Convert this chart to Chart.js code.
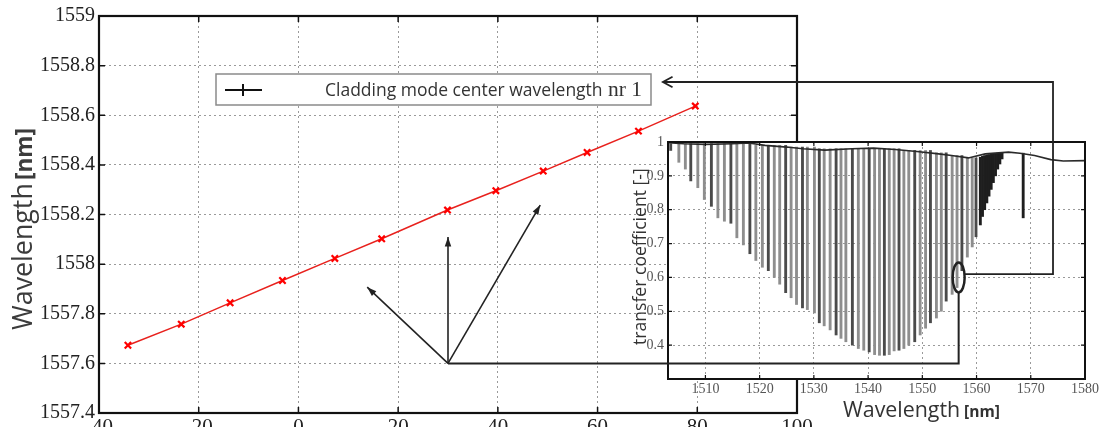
<!DOCTYPE html>
<html>
<head>
<meta charset="utf-8">
<script src="https://cdn.jsdelivr.net/npm/chart.js@4.4.0/dist/chart.umd.min.js"></script>
<style>
  html, body { margin: 0; padding: 0; background: #fff; overflow: hidden; }
  #wrap { position: relative; width: 1101px; height: 427px; overflow: hidden; }
  #wrap canvas { position: absolute; left: 0; top: 0; }
</style>
</head>
<body>
<div id="wrap">
  <canvas id="mainChart" width="1101" height="452"></canvas>
  <canvas id="insetChart" width="1101" height="427"></canvas>
</div>
<script>
// main plot: centre wavelength of cladding mode nr 1
const temperature = [-34.2, -23.5, -13.7, -3.2, 7.3, 16.7, 29.9, 39.6, 49.1, 57.9, 68.2, 79.6];
const centerWavelength = [1557.673, 1557.758, 1557.844, 1557.934, 1558.023, 1558.102,
  1558.218, 1558.296, 1558.375, 1558.45, 1558.536, 1558.637];
const mainXTicks = [-40, -20, 0, 20, 40, 60, 80, 100];
const mainYTicks = [1557.4, 1557.6, 1557.8, 1558, 1558.2, 1558.4, 1558.6, 1558.8, 1559];

// inset: transmission spectrum, every dip = [minimum, level above it]
const dipWavelength = [1503.6, 1505.1, 1506.3, 1507.3, 1508.6, 1509.8, 1511.1, 1512.3, 1513.5, 1514.7,
  1515.8, 1517.0, 1518.2, 1519.3, 1520.5, 1521.6, 1522.7, 1523.7, 1524.8, 1525.8,
  1526.8, 1527.9, 1528.8, 1530.1, 1531.0, 1531.9, 1533.0, 1534.1, 1535.0, 1535.9,
  1537.1, 1538.2, 1539.2, 1540.2, 1541.2, 1542.1, 1543.0, 1543.9, 1544.8, 1545.7,
  1546.6, 1547.5, 1548.6, 1549.6, 1550.6, 1551.5, 1552.6, 1553.5, 1554.4, 1555.5,
  1556.4, 1557.3, 1558.3, 1559.2, 1559.9, 1560.7, 1561.1, 1561.5, 1561.9, 1562.3,
  1562.7, 1563.1, 1563.5, 1563.9, 1564.3, 1564.7, 1568.6];
const dipMinimum = [0.975, 0.94, 0.92, 0.885, 0.865, 0.83, 0.81, 0.776, 0.766, 0.76,
  0.717, 0.696, 0.67, 0.65, 0.63, 0.62, 0.60, 0.58, 0.555, 0.54,
  0.52, 0.51, 0.505, 0.495, 0.466, 0.457, 0.445, 0.43, 0.42, 0.41,
  0.40, 0.39, 0.385, 0.38, 0.372, 0.37, 0.37, 0.372, 0.383, 0.385,
  0.39, 0.40, 0.41, 0.43, 0.45, 0.466, 0.48, 0.50, 0.53, 0.55,
  0.57, 0.62, 0.66, 0.69, 0.72, 0.755, 0.78, 0.80, 0.82, 0.84,
  0.86, 0.88, 0.90, 0.92, 0.935, 0.95, 0.776];
const dipTop = [0.995, 0.995, 0.995, 0.995, 0.995, 0.995, 0.995, 0.995, 0.995, 0.995,
  0.995, 0.995, 0.995, 0.99, 0.99, 0.99, 0.99, 0.99, 0.99, 0.985,
  0.985, 0.985, 0.985, 0.985, 0.98, 0.98, 0.98, 0.98, 0.98, 0.98,
  0.98, 0.98, 0.98, 0.98, 0.98, 0.98, 0.98, 0.98, 0.98, 0.98,
  0.975, 0.975, 0.975, 0.975, 0.975, 0.975, 0.968, 0.968, 0.968, 0.96,
  0.96, 0.96, 0.953, 0.953, 0.953, 0.955, 0.958, 0.96, 0.962, 0.963,
  0.964, 0.965, 0.966, 0.967, 0.968, 0.969, 0.967];
const envWavelength = [1503.1, 1506, 1510, 1515, 1518, 1521, 1525, 1528, 1532, 1537, 1541, 1545,
  1549, 1553, 1555.4, 1558.5, 1561.6, 1565.9, 1568, 1570.7, 1573.7, 1576, 1580];
const envValue = [0.998, 0.995, 0.993, 0.995, 0.997, 0.99, 0.985, 0.98, 0.976, 0.98, 0.982, 0.978,
  0.972, 0.965, 0.96, 0.953, 0.965, 0.97, 0.967, 0.96, 0.948, 0.944, 0.945];
const insetXTicks = [1510, 1520, 1530, 1540, 1550, 1560, 1570, 1580];
const insetYTicks = [0.4, 0.5, 0.6, 0.7, 0.8, 0.9, 1];

// annotation arrows
const arrowBase = [30, 1557.6];                 // main plot
const arrowTipX = [13.8, 30, 48.5];
const arrowTipY = [1557.907, 1558.109, 1558.238];
const ellipseAt = [1556.7, 0.6];                // inset
const returnAt = [1574.1, 0.61];                // inset
const returnTip = [73.1, 1558.734];             // main plot

const serif = "'Liberation Serif', 'Times New Roman', serif";
const sans = "'Open Sans', 'DejaVu Sans', sans-serif";

// font size so that the text spans the given width
function fitFont(ctx, text, weight, family, width) {
  ctx.font = weight + ' 20px ' + family;
  const size = 20 * width / ctx.measureText(text).width;
  return weight + ' ' + size.toFixed(1) + 'px ' + family;
}

function inwardTicks(ctx, a, x, y, len) {
  x.ticks.forEach(t => {
    const px = x.getPixelForValue(t.value);
    ctx.moveTo(px, a.bottom); ctx.lineTo(px, a.bottom - len);
    ctx.moveTo(px, a.top); ctx.lineTo(px, a.top + len);
  });
  y.ticks.forEach(t => {
    const py = y.getPixelForValue(t.value);
    ctx.moveTo(a.left, py); ctx.lineTo(a.left + len, py);
    ctx.moveTo(a.right, py); ctx.lineTo(a.right - len, py);
  });
}

// parts: {text, weight, width}; drawn bottom-to-top, ending at 'top'
function verticalTitle(ctx, bx, bottom, gap, parts, color) {
  ctx.save();
  ctx.translate(bx, bottom);
  ctx.rotate(-Math.PI / 2);
  ctx.textBaseline = 'alphabetic';
  ctx.fillStyle = color;
  let off = 0;
  parts.forEach(p => {
    ctx.font = fitFont(ctx, p.text, p.weight, sans, p.width);
    ctx.fillText(p.text, off, 0);
    off += p.width + gap;
  });
  ctx.restore();
}

const mainDecor = {
  id: 'mainDecor',
  afterDraw(chart) {
    const {ctx, chartArea: a, scales: {x, y}} = chart;
    ctx.save();
    ctx.strokeStyle = '#111';
    ctx.lineWidth = 1.5;
    ctx.beginPath();
    inwardTicks(ctx, a, x, y, 6);
    ctx.stroke();
    ctx.lineWidth = 2.2;
    ctx.strokeRect(a.left, a.top, a.right - a.left, a.bottom - a.top);

    // legend box
    const lx = a.left + 117, ly = a.top + 58;
    ctx.fillStyle = '#fff';
    ctx.fillRect(lx, ly, 435, 31);
    ctx.strokeStyle = '#8a8a8a';
    ctx.lineWidth = 1.5;
    ctx.strokeRect(lx, ly, 435, 31);
    ctx.strokeStyle = '#111';
    ctx.lineWidth = 2;
    ctx.beginPath();
    ctx.moveTo(lx + 9, ly + 16); ctx.lineTo(lx + 46, ly + 16);
    ctx.moveTo(lx + 27, ly + 10); ctx.lineTo(lx + 27, ly + 22);
    ctx.stroke();
    ctx.fillStyle = '#333';
    ctx.textBaseline = 'alphabetic';
    ctx.font = fitFont(ctx, 'Cladding mode center wavelength', 'normal', sans, 277);
    ctx.fillText('Cladding mode center wavelength', lx + 109, ly + 22);
    ctx.font = fitFont(ctx, 'nr 1', 'normal', serif, 34);
    ctx.fillText('nr 1', lx + 392, ly + 22);
    ctx.restore();

    verticalTitle(ctx, 32, 330, 3, [
      {text: 'Wavelength', weight: 'normal', width: 147},
      {text: '[nm]', weight: 'bold', width: 52}
    ], '#3c3c3c');
  }
};

const mainChart = new Chart(document.getElementById('mainChart'), {
  type: 'line',
  data: {
    datasets: [{
      data: temperature.map((t, i) => ({x: t, y: centerWavelength[i]})),
      borderColor: '#e8211d',
      borderWidth: 1.5,
      pointStyle: 'crossRot',
      pointRadius: 4.5,
      pointBorderWidth: 2.2,
      pointBorderColor: '#f00',
      pointBackgroundColor: '#f00'
    }]
  },
  options: {
    responsive: false,
    animation: false,
    layout: {padding: {top: 16, right: 304, left: 0, bottom: 0}},
    plugins: {legend: {display: false}, tooltip: {enabled: false}},
    scales: {
      x: {
        type: 'linear', min: -40, max: 100,
        afterBuildTicks: s => { s.ticks = mainXTicks.map(v => ({value: v})); },
        afterFit: s => { s.height = 39; },
        grid: {color: '#9a9a9a', lineWidth: 1, drawTicks: false},
        border: {display: false, dash: [2, 3]},
        ticks: {padding: 2, font: {family: serif, size: 21}, color: '#222', maxRotation: 0, autoSkip: false,
          callback: v => String(v)}
      },
      y: {
        type: 'linear', min: 1557.4, max: 1559,
        afterBuildTicks: s => { s.ticks = mainYTicks.map(v => ({value: v})); },
        afterFit: s => { s.width = 99; },
        grid: {color: '#9a9a9a', lineWidth: 1, drawTicks: false},
        border: {display: false, dash: [2, 3]},
        ticks: {padding: 4, font: {family: serif, size: 20}, color: '#222',
          callback: v => String(+v.toFixed(1))}
      }
    }
  },
  plugins: [mainDecor]
});

function arrowHead(ctx, x0, y0, x1, y1, len, half, filled) {
  const ang = Math.atan2(y1 - y0, x1 - x0);
  ctx.beginPath();
  ctx.moveTo(x1 - len * Math.cos(ang - half), y1 - len * Math.sin(ang - half));
  ctx.lineTo(x1, y1);
  ctx.lineTo(x1 - len * Math.cos(ang + half), y1 - len * Math.sin(ang + half));
  if (filled) { ctx.closePath(); ctx.fill(); } else { ctx.stroke(); }
}

const insetDecor = {
  id: 'insetDecor',
  beforeDraw(chart) {
    const {ctx, chartArea: a} = chart;
    ctx.save();
    ctx.fillStyle = '#fff';
    ctx.fillRect(a.left, a.top, a.right - a.left, a.bottom - a.top);
    ctx.restore();
  },
  afterDraw(chart) {
    const {ctx, chartArea: a, scales: {x, y}} = chart;
    const mx = mainChart.scales.x, my = mainChart.scales.y;
    ctx.save();
    ctx.strokeStyle = '#111';
    ctx.lineWidth = 1.2;
    ctx.beginPath();
    inwardTicks(ctx, a, x, y, 4);
    ctx.stroke();
    ctx.lineWidth = 2;
    ctx.strokeRect(a.left, a.top, a.right - a.left, a.bottom - a.top);

    // arrows from the spectrum to the main plot
    const bx = mx.getPixelForValue(arrowBase[0]), by = my.getPixelForValue(arrowBase[1]);
    ctx.strokeStyle = '#222';
    ctx.fillStyle = '#222';
    ctx.lineWidth = 1.6;
    arrowTipX.forEach((tx, i) => {
      const px = mx.getPixelForValue(tx), py = my.getPixelForValue(arrowTipY[i]);
      ctx.beginPath(); ctx.moveTo(bx, by); ctx.lineTo(px, py); ctx.stroke();
      arrowHead(ctx, bx, by, px, py, 10, 0.33, true);
    });
    const ex = x.getPixelForValue(ellipseAt[0]), ey = y.getPixelForValue(ellipseAt[1]);
    ctx.lineWidth = 2;
    ctx.beginPath();
    ctx.moveTo(bx, by); ctx.lineTo(ex, by); ctx.lineTo(ex, ey + 15);
    ctx.stroke();
    ctx.lineWidth = 2.5;
    ctx.beginPath();
    ctx.ellipse(ex, ey, 6, 15, 0, 0, Math.PI * 2);
    ctx.stroke();
    const rx = x.getPixelForValue(returnAt[0]), ry = y.getPixelForValue(returnAt[1]);
    const tx = mx.getPixelForValue(returnTip[0]), ty = my.getPixelForValue(returnTip[1]);
    ctx.lineWidth = 1.8;
    ctx.beginPath();
    ctx.moveTo(ex + 6, ry); ctx.lineTo(rx, ry); ctx.lineTo(rx, ty); ctx.lineTo(tx, ty);
    ctx.stroke();
    arrowHead(ctx, tx + 20, ty, tx, ty, 11, 0.5, false);
    ctx.restore();

    verticalTitle(ctx, 646, 345, 0, [
      {text: 'transfer coefficient [-]', weight: 'normal', width: 177}
    ], '#333');
    ctx.save();
    ctx.fillStyle = '#333';
    ctx.textBaseline = 'alphabetic';
    ctx.font = fitFont(ctx, 'Wavelength', 'normal', sans, 117);
    ctx.fillText('Wavelength', 843, 417);
    ctx.font = fitFont(ctx, '[nm]', 'bold', sans, 36);
    ctx.fillText('[nm]', 964, 417);
    ctx.restore();
  }
};

const insetChart = new Chart(document.getElementById('insetChart'), {
  type: 'bar',
  data: {
    datasets: [{
      type: 'line',
      order: 0,
      data: envWavelength.map((w, i) => ({x: w, y: envValue[i]})),
      borderColor: '#2a2a2a',
      borderWidth: 1.6,
      pointRadius: 0
    }, {
      order: 1,
      data: dipWavelength.map((w, i) => ({x: w, y: [dipMinimum[i], dipTop[i]]})),
      backgroundColor: c => {
        const w = dipWavelength[c.dataIndex];
        if (w > 1560.5) return '#1e1e1e';
        return c.dataIndex % 3 === 0 ? '#4a4a4a' : '#8e8e8e';
      },
      barThickness: 2.2,
      grouped: false
    }]
  },
  options: {
    responsive: false,
    animation: false,
    layout: {padding: {top: 142, right: 13, left: 0, bottom: 0}},
    plugins: {legend: {display: false}, tooltip: {enabled: false}},
    scales: {
      x: {
        type: 'linear', min: 1503.1, max: 1580, offset: false,
        afterBuildTicks: s => { s.ticks = insetXTicks.map(v => ({value: v})); },
        afterFit: s => { s.height = 48; },
        grid: {color: '#9a9a9a', lineWidth: 1, drawTicks: false, offset: false},
        border: {display: false, dash: [2, 3]},
        ticks: {padding: 2, font: {family: serif, size: 14}, color: '#555', maxRotation: 0, autoSkip: false,
          callback: v => String(v)}
      },
      y: {
        type: 'linear', min: 0.3, max: 1,
        afterBuildTicks: s => { s.ticks = insetYTicks.map(v => ({value: v})); },
        afterFit: s => { s.width = 668; },
        grid: {color: '#9a9a9a', lineWidth: 1, drawTicks: false},
        border: {display: false, dash: [2, 3]},
        ticks: {padding: 4, font: {family: serif, size: 14}, color: '#555',
          callback: v => (v === 1 ? '1' : v.toFixed(1))}
      }
    }
  },
  plugins: [insetDecor]
});
</script>
</body>
</html>
